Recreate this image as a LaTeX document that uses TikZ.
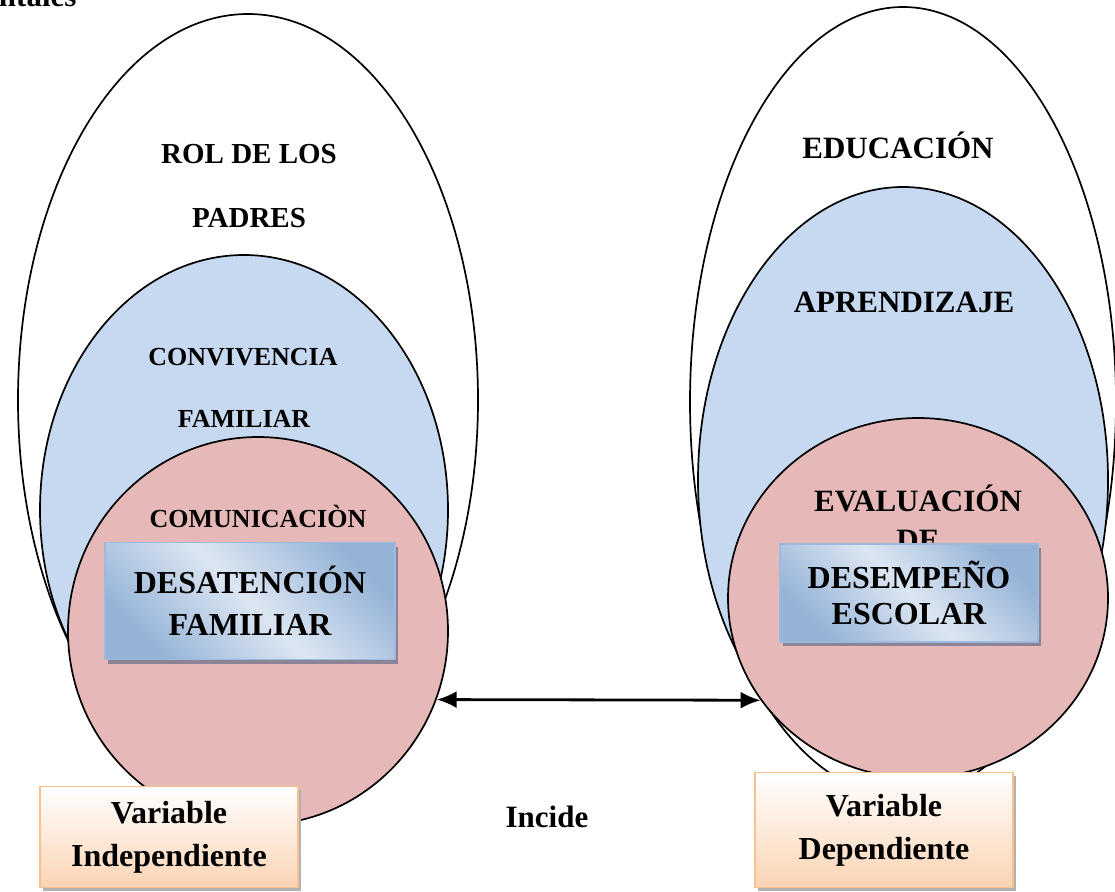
\documentclass[tikz,border=0pt]{standalone}
\usepackage{fontspec}
\setmainfont{Liberation Serif}
\usetikzlibrary{shapes.geometric,shadows,arrows.meta}

\definecolor{azul}{HTML}{C6D9F1}
\definecolor{rosa}{HTML}{E6B9B8}
\definecolor{azulosc}{HTML}{95B3D7}
\definecolor{azulcla}{HTML}{DCE6F2}
\definecolor{bordeazul}{HTML}{9DB9DC}
\definecolor{sombra}{HTML}{8A8496}
\definecolor{durazno}{HTML}{FBD4B4}
\definecolor{naranja}{HTML}{FAC090}

\tikzstyle{anillo}=[ellipse, draw, line width=1.7pt, inner sep=0pt]
\tikzstyle{grande}=[font=\fontsize{31}{36}\selectfont\bfseries, anchor=base]
\tikzstyle{mediano}=[font=\fontsize{29}{34}\selectfont\bfseries, anchor=base]
\tikzstyle{chico}=[font=\fontsize{26}{30}\selectfont\bfseries, anchor=base]
\tikzstyle{caja}=[draw=bordeazul, line width=1.5pt, top color=azulosc, bottom color=azulosc, middle color=azulcla, shading angle=-45, drop shadow={shadow xshift=3pt, shadow yshift=-4pt, fill=sombra, opacity=1}, font=\fontsize{32}{42}\selectfont\bfseries, align=center, inner sep=0pt]
\tikzstyle{varcaja}=[draw=naranja, line width=1.5pt, top color=white, bottom color=durazno, drop shadow={shadow xshift=3pt, shadow yshift=-3pt, fill=black!30, opacity=1}, font=\fontsize{32}{43}\selectfont\bfseries, align=center, inner sep=0pt, minimum width=258pt]
\tikzstyle{flecha}=[{Latex[length=20pt,width=17pt]}-{Latex[length=20pt,width=17pt]}, line width=2.8pt]

\begin{document}
\begin{tikzpicture}[x=1pt,y=-1pt]
\useasboundingbox (0,0) rectangle (1115,891);

\node[grande, anchor=base east] (titulo) at (80,7) {ntales};

\node[anillo, fill=white, minimum width=460pt, minimum height=772pt] (rol) at (248,400) {};
\node[anillo, fill=azul, minimum width=408pt, minimum height=510pt] (convivencia) at (244,510) {};
\node[anillo, fill=rosa, minimum width=380pt, minimum height=388pt] (comunicacion) at (258,631) {};

\node[anillo, fill=white, minimum width=426pt, minimum height=790pt] (educacion) at (903,402) {};
\node[anillo, fill=azul, minimum width=410pt, minimum height=586pt] (aprendizaje) at (903,480) {};
\node[anillo, fill=rosa, minimum width=380pt, minimum height=360pt] (evaluacion) at (918,598) {};

\node[mediano] (rol1) at (249,163) {ROL DE LOS};
\node[mediano] (rol2) at (249,227) {PADRES};
\node[chico] (conv1) at (243,365) {CONVIVENCIA};
\node[chico] (conv2) at (244,427) {FAMILIAR};
\node[chico] (comu) at (258,527) {COMUNICACIÒN};

\node[grande] (edu) at (898,158) {EDUCACIÓN};
\node[grande] (apre) at (904,312) {APRENDIZAJE};
\node[grande] (eval1) at (918,511) {EVALUACIÓN};
\node[grande] (eval2) at (918,550) {DE};

\node[caja, minimum width=290pt, minimum height=117pt] (desatencion) at (250,601) {DESATENCIÓN\\FAMILIAR};
\node[caja, font=\fontsize{32}{36}\selectfont\bfseries, minimum width=258pt, minimum height=98pt] (desempeno) at (909,593) {DESEMPEÑO\\ESCOLAR};

\draw[flecha] (comunicacion.-21.2) -- (evaluacion.-147);
\node[grande] (incide) at (547,827) {Incide};

\node[varcaja, minimum height=101pt] (independiente) at (169,837) {Variable\\Independiente};
\node[varcaja, minimum height=115pt] (dependiente) at (884,830) {Variable\\Dependiente};

\end{tikzpicture}
\end{document}
